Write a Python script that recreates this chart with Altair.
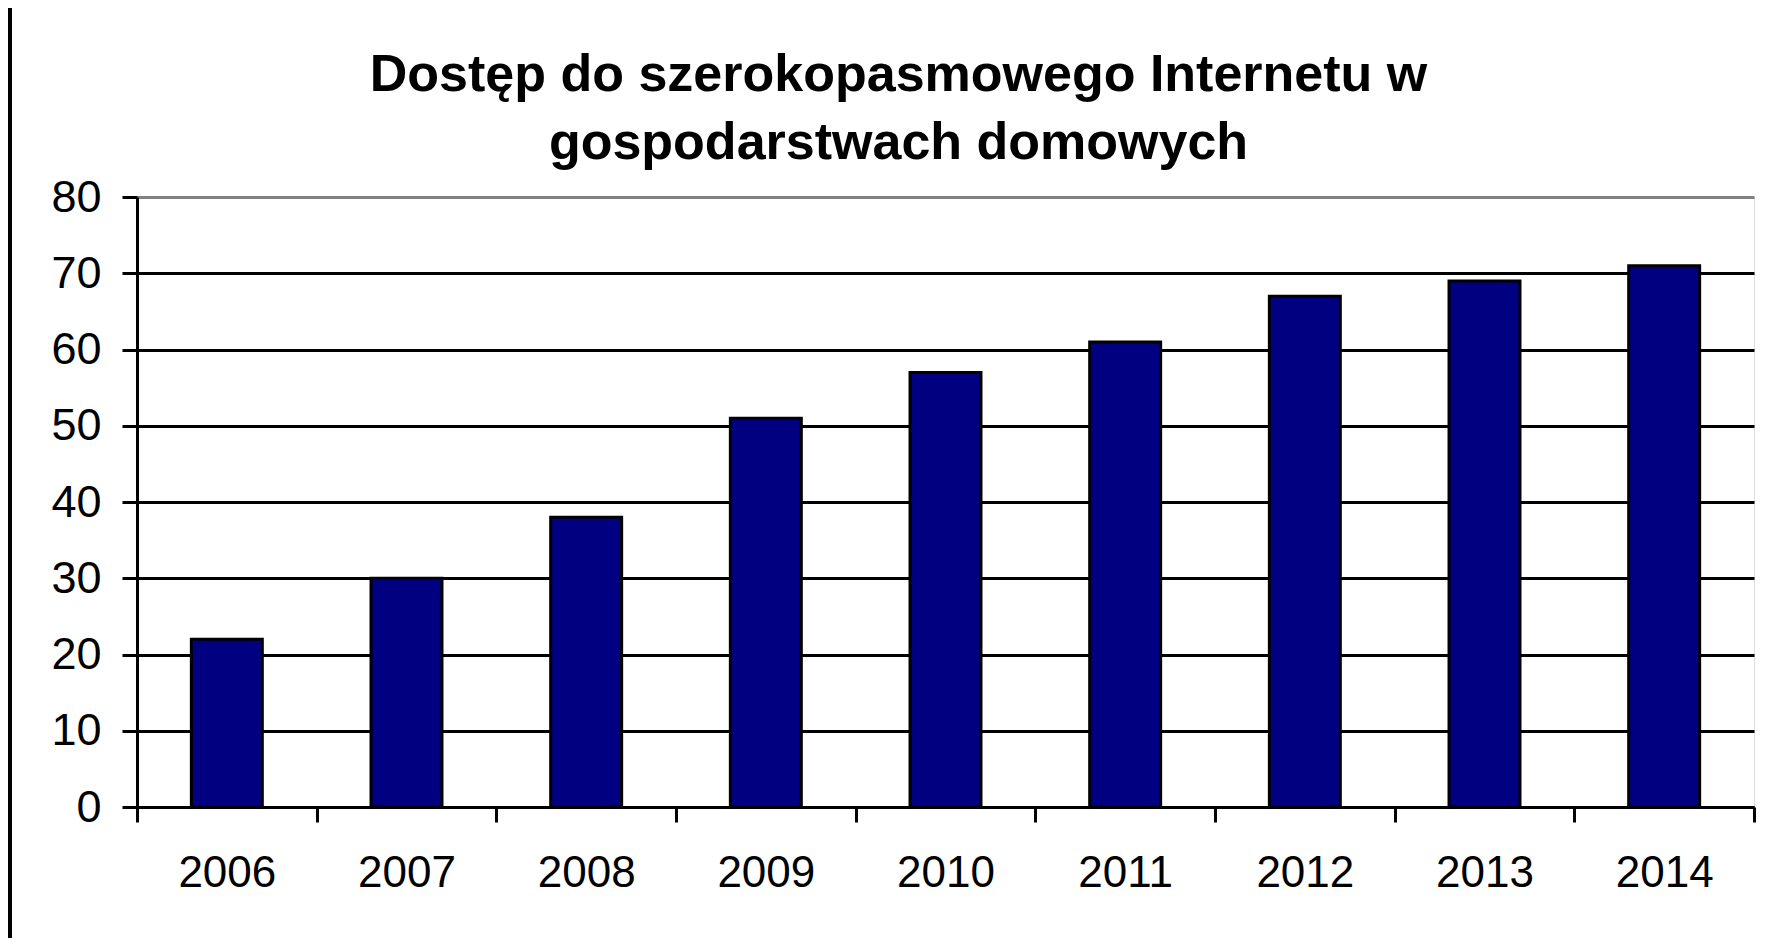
import altair as alt
import pandas as pd

years = ["2006", "2007", "2008", "2009", "2010", "2011", "2012", "2013", "2014"]
values = [22, 30, 38, 51, 57, 61, 67, 69, 71]
y_ticks = [0, 10, 20, 30, 40, 50, 60, 70, 80]
title_lines = ["Dostęp do szerokopasmowego Internetu w", "gospodarstwach domowych"]

df = pd.DataFrame({"year": years, "value": values})

FONT = "Liberation Sans"

bars = alt.Chart(df).mark_bar(
    color="#000080",
    stroke="#000000",
    strokeWidth=3,
    width=alt.RelativeBandSize(0.395),
).encode(
    x=alt.X(
        "year:N",
        sort=years,
        scale=alt.Scale(paddingInner=0, paddingOuter=0),
        axis=alt.Axis(
            title=None,
            labelAngle=0,
            tickBand="extent",
            labelFont=FONT,
            labelColor="#000000",
            labelFontSize=44,
            labelPadding=29,
            tickSize=15,
            tickWidth=3,
            tickColor="#000000",
            domainWidth=3,
            domainColor="#000000",
            grid=False,
        ),
    ),
    y=alt.Y(
        "value:Q",
        scale=alt.Scale(domain=[0, 80], nice=False),
        axis=alt.Axis(
            title=None,
            values=y_ticks,
            labelFont=FONT,
            labelColor="#000000",
            labelFontSize=45,
            labelPadding=21,
            tickSize=15,
            tickWidth=3,
            tickColor="#000000",
            domainWidth=3,
            domainColor="#000000",
            grid=True,
            gridColor=alt.condition("datum.value == 80", alt.value("#808080"), alt.value("#000000")),
            gridWidth=3,
            gridOpacity=1,
        ),
    ),
)

frame = alt.Chart(df).mark_rule(color="#000000", strokeWidth=3).encode(
    x=alt.value(-127),
    y=alt.value(-200),
    y2=alt.value(760),
)

chart = alt.layer(frame, bars).properties(
    width=1617,
    height=610,
    padding={"left": 129, "top": 189, "right": 5, "bottom": 131},
    autosize=alt.AutoSizeParams(type="none"),
    title=alt.Title(
        text=title_lines,
        font=FONT,
        fontSize=52,
        fontWeight="bold",
        color="#000000",
        lineHeight=68,
        anchor="middle",
        frame="group",
        baseline="bottom",
        dx=-47,
        dy=226,
        offset=0,
    ),
).configure_view(
    fill="#C0C0C0",
    stroke="#808080",
    strokeWidth=3,
).configure(background="#FFFFFF")

chart.save("out.html", embed_options={"renderer": "svg", "actions": False})
